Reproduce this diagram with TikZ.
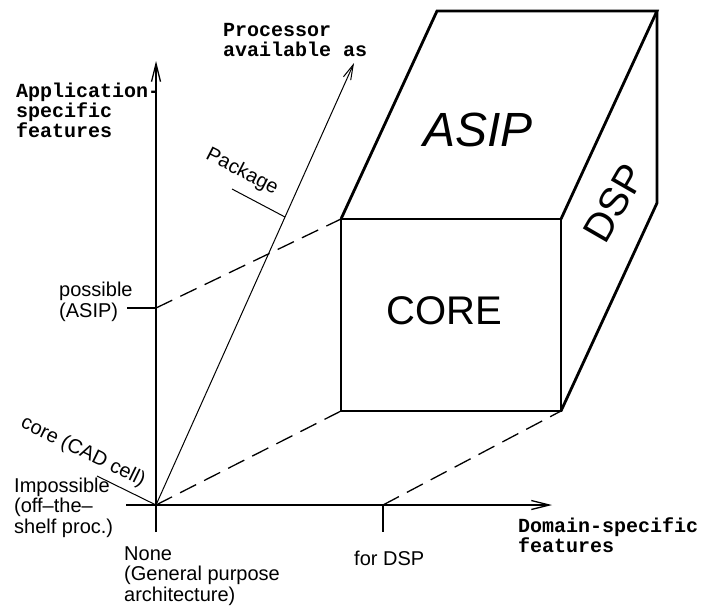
\documentclass[tikz,border=0pt]{standalone}
\usepackage{fontspec}
\setmainfont{Liberation Sans}
\newfontfamily\monof{Liberation Mono}
\usetikzlibrary{arrows.meta}
\begin{document}
\begin{tikzpicture}[x=1pt,y=-1pt,
  axis/.style={line width=1.3pt,-{Straight Barb[length=18pt,width=9pt,line width=1.3pt]}},
  thinaxis/.style={line width=1pt,-{Straight Barb[length=15pt,width=8pt,line width=1pt]}},
  tick/.style={line width=1.3pt},
  hidden/.style={line width=1.3pt,dash pattern=on 18pt off 9pt},
  edge/.style={line width=2.8pt,line join=miter},
  lbl/.style={inner sep=0pt,font=\fontsize{20}{20.5}\selectfont,align=left},
  mlbl/.style={inner sep=0pt,font=\monof\bfseries\fontsize{20}{20}\selectfont,align=left}]
\useasboundingbox (0,0) rectangle (716,608);
% coordinates
\coordinate (O) at (156,505);
\coordinate (vbot) at (156,532);
\coordinate (vtop) at (156,61);
\coordinate (hleft) at (126,505);
\coordinate (hright) at (552,505);
\coordinate (ptop) at (354,63);
\coordinate (possT) at (156,308);
\coordinate (possL) at (127,308);
\coordinate (dspT) at (383,505);
\coordinate (dspB) at (383,532);
\coordinate (pkgA) at (285,217);
\coordinate (pkgB) at (232,189);
\coordinate (coreB) at (97,476);
\coordinate (A) at (341,219);
\coordinate (B) at (561,219);
\coordinate (C) at (561,411);
\coordinate (D) at (341,411);
\coordinate (E) at (437,11);
\coordinate (F) at (657,11);
\coordinate (G) at (657,203);
% axes
\draw[axis] (vbot) -- (vtop);
\draw[axis] (hleft) -- (hright);
\draw[thinaxis] (O) -- (ptop);
% ticks
\draw[tick] (possL) -- (possT);
\draw[tick] (dspT) -- (dspB);
\draw[line width=1pt] (pkgB) -- (pkgA);
\draw[line width=1pt] (coreB) -- (O);
% hidden lines
\draw[hidden] (O) -- (D);
\draw[hidden] (possT) -- (A);
\draw[hidden] (dspT) -- (C);
% box
\draw[edge] (A) -- (B) -- (C) -- (D) -- cycle;
\draw[edge] (A) -- (E) -- (F) -- (B);
\draw[edge] (F) -- (G) -- (C);
% labels (base anchor = baseline of last line)
\node[mlbl,anchor=base west] (lapp) at (16,137) {Application-\\specific\\features};
\node[mlbl,anchor=base west] (lproc) at (223,56) {Processor\\available as};
\node[mlbl,anchor=base west] (ldom) at (518,552) {Domain-specific\\features};
\node[lbl,anchor=base west] (lposs) at (59,317) {possible\\(ASIP)};
\node[lbl,anchor=base west] (limp) at (14,533) {Impossible\\(off–the–\\shelf proc.)};
\node[lbl,anchor=base west] (lnone) at (124,601) {None\\(General purpose\\architecture)};
\node[lbl,anchor=base west] (lfor) at (354,565) {for DSP};
\node[lbl,rotate=-27] (lpkg) at (242,172) {Package};
\node[lbl,rotate=-26] (lcore) at (83,452) {core (CAD cell)};
\node[inner sep=0pt,font=\fontsize{40}{40}\selectfont] (tcore) at (444,311) {CORE};
\node[inner sep=0pt,font=\itshape\fontsize{48}{48}\selectfont] (tasip) at (478,130) {ASIP};
\node[inner sep=0pt,font=\fontsize{40}{40}\selectfont,rotate=60] (tdsp) at (614,203) {DSP};
\end{tikzpicture}
\end{document}
